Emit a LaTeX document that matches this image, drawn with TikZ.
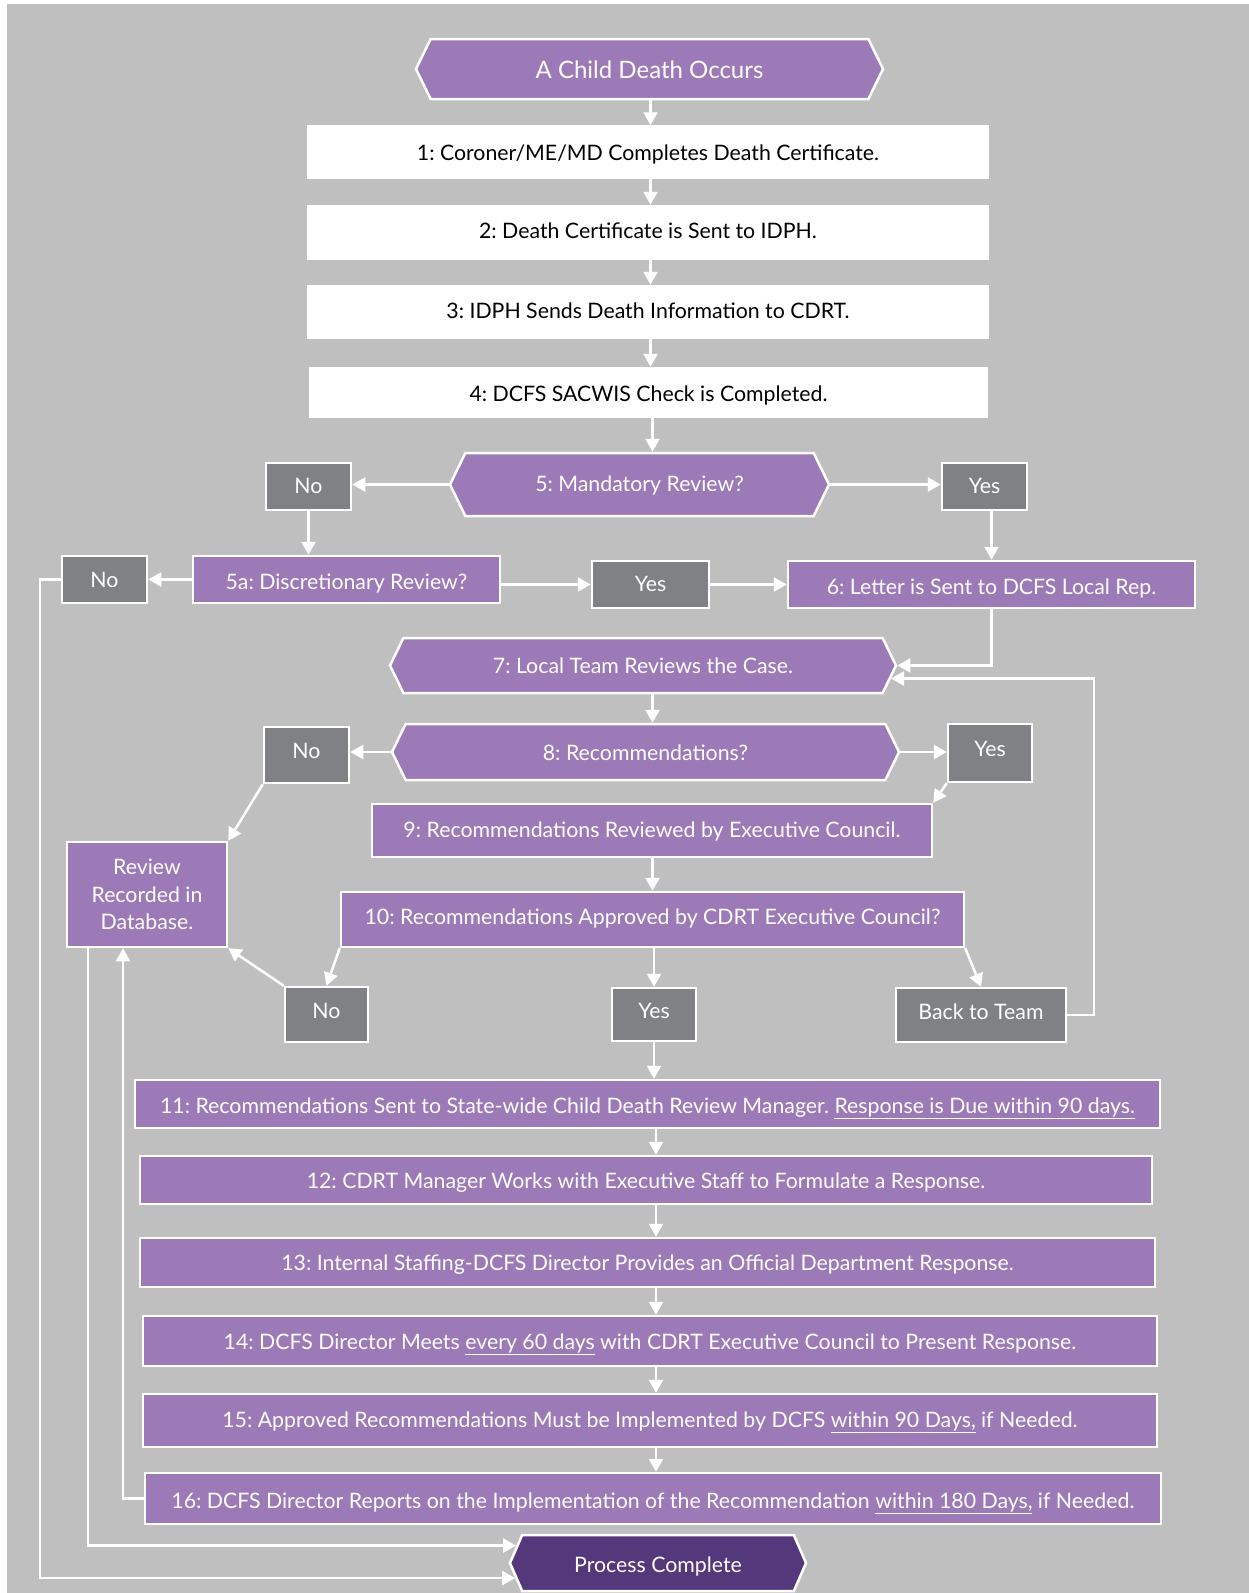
\documentclass[tikz,border=0pt]{standalone}
\usepackage{fontspec}
\setmainfont{Lato}
\usetikzlibrary{shapes.symbols,arrows.meta,calc}
\definecolor{bg}{HTML}{BFBFBF}
\definecolor{pur}{HTML}{9C7AB7}
\definecolor{gry}{HTML}{808185}
\definecolor{dpur}{HTML}{55387C}
\newcommand{\fs}{\fontsize{21.3}{27.5}\selectfont\frenchspacing}
\newcommand{\fsbig}{\fontsize{24}{28}\selectfont\frenchspacing}
\tikzset{
  base/.style={rectangle, draw=white, line width=2.5pt, inner sep=0pt, text=white, font=\fs},
  box/.style={base, text height=#1, text depth=0pt},
  box/.default=12pt,
  wbox/.style={box=#1, fill=white, text=black},
  wbox/.default=12pt,
  pbox/.style={box=#1, fill=pur},
  pbox/.default=12pt,
  gbox/.style={box=#1, fill=gry},
  gbox/.default=12pt,
  hexa/.style={signal, signal to=east and west, signal pointer angle=128, draw=white, line width=2.5pt, fill=pur, text=white, inner sep=0pt, font=\fs, text height=#1, text depth=0pt},
  hexa/.default=12pt,
  arr/.style={draw=white, line width=2.5pt, -{Triangle[width=14pt,length=13pt]}},
}
\begin{document}
\begin{tikzpicture}[x=1pt,y=-1pt]
\useasboundingbox (0,0) rectangle (1249,1593);
\fill[white] (0,0) rectangle (1249,1593);
\fill[bg] (7,4) rectangle (1249,1593);

% nodes
\node[hexa=18pt, font=\fsbig, minimum width=467pt, minimum height=60pt] (start) at (649.5,69) {A Child Death Occurs};
\node[wbox=16pt, minimum width=679pt, minimum height=51pt] (n1) at (648,152) {1: Coroner/ME/MD Completes Death Certificate.};
\node[wbox=11pt, minimum width=679pt, minimum height=53pt] (n2) at (648,232.5) {2: Death Certificate is Sent to IDPH.};
\node[wbox=12pt, minimum width=679pt, minimum height=52pt] (n3) at (648,312) {3: IDPH Sends Death Information to CDRT.};
\node[wbox=17pt, minimum width=677pt, minimum height=49pt] (n4) at (648.5,392.5) {4: DCFS SACWIS Check is Completed.};
\node[hexa=14pt, minimum width=379pt, minimum height=63pt] (n5) at (639.5,484.5) {5: Mandatory Review?};
\node[gbox=14pt, minimum width=85pt, minimum height=47pt] (no5) at (308.5,486.5) {No};
\node[gbox=14pt, minimum width=85pt, minimum height=47pt] (yes5) at (984.5,486.5) {Yes};
\node[pbox=19pt, minimum width=307pt, minimum height=47pt] (n5a) at (346.5,579.5) {5a: Discretionary Review?};
\node[gbox=15pt, minimum width=85pt, minimum height=47pt] (noL) at (104.5,579.5) {No};
\node[gbox=14pt, minimum width=117pt, minimum height=47pt] (yesM) at (650.5,584.5) {Yes};
\node[pbox=19pt, minimum width=407pt, minimum height=47pt] (n6) at (991.5,584.5) {6: Letter is Sent to DCFS Local Rep.};
\node[hexa=16pt, minimum width=506pt, minimum height=55pt] (n7) at (643,665.5) {7: Local Team Reviews the Case.};
\node[hexa=16pt, minimum width=507pt, minimum height=56pt] (n8) at (645.5,752) {8: Recommendations?};
\node[gbox=7pt, minimum width=85pt, minimum height=56pt] (no8) at (306.5,755) {No};
\node[gbox=6pt, minimum width=84pt, minimum height=58pt] (yes8) at (990,753) {Yes};
\node[pbox=14pt, minimum width=560pt, minimum height=53pt] (n9) at (652,830.5) {9: Recommendations Reviewed by Executive Council.};
\node[base, fill=pur, minimum width=160pt, minimum height=105pt, align=center] (rev) at (147,894.5) {Review\\Recorded in\\Database.};
\node[pbox=10pt, minimum width=623pt, minimum height=55pt] (n10) at (652.5,919.5) {10: Recommendations Approved by CDRT Executive Council?};
\node[gbox=7pt, minimum width=83pt, minimum height=55pt] (no10) at (326.5,1014.5) {No};
\node[gbox=8pt, minimum width=84pt, minimum height=53pt] (yes10) at (654,1014.5) {Yes};
\node[gbox=8pt, minimum width=170pt, minimum height=54pt] (back) at (981,1015) {Back to Team};
\node[pbox=19pt, minimum width=1025pt, minimum height=48pt] (n11) at (647.5,1104) {11: Recommendations Sent to State-wide Child Death Review Manager. \underline{Response is Due within 90 days.}};
\node[pbox=17pt, minimum width=1012pt, minimum height=48pt] (n12) at (646,1180) {12: CDRT Manager Works with Executive Staff to Formulate a Response.};
\node[pbox=16pt, minimum width=1015pt, minimum height=49pt] (n13) at (647.5,1262.5) {13: Internal Staffing-DCFS Director Provides an Official Department Response.};
\node[pbox=16pt, minimum width=1014pt, minimum height=50pt] (n14) at (650,1341) {14: DCFS Director Meets \underline{every 60 days} with CDRT Executive Council to Present Response.};
\node[pbox=14pt, minimum width=1014pt, minimum height=53pt] (n15) at (650,1420.5) {15: Approved Recommendations Must be Implemented by DCFS \underline{within 90 Days,} if Needed.};
\node[pbox=19pt, minimum width=1016pt, minimum height=51pt] (n16) at (653,1498.5) {16: DCFS Director Reports on the Implementation of the Recommendation \underline{within 180 Days,} if Needed.};
\node[hexa=19pt, fill=dpur, signal pointer angle=133, minimum width=296pt, minimum height=56pt] (pc) at (658,1563) {Process Complete};

\coordinate (bkx) at (1094,0);
\coordinate (axA) at (650.5,0);
\coordinate (axB) at (652.5,0);
\coordinate (axC) at (656,0);

% connectors
\draw[arr] (start.south -| axA) -- (n1.north -| axA);
\draw[arr] (n1.south -| axA) -- (n2.north -| axA);
\draw[arr] (n2.south -| axA) -- (n3.north -| axA);
\draw[arr] (n3.south -| axA) -- (n4.north -| axA);
\draw[arr] (n4.south -| axB) -- (n5.north -| axB);
\draw[arr] (n5.west) -- (n5.west -| no5.east);
\draw[arr] (n5.east) -- (n5.east -| yes5.west);
\draw[arr] (no5.south) -- (no5.south |- n5a.north);
\draw[arr] (n6.north |- yes5.south) -- (n6.north);
\draw[arr] (n5a.west) -- (n5a.west -| noL.east);
\draw[arr] (n5a.east |- yesM.west) -- (yesM.west);
\draw[arr] (yesM.east) -- (yesM.east -| n6.west);
\draw[arr] (n6.south) |- (n7.east);
\draw[arr] (n7.south -| axB) -- (n8.north -| axB);
\draw[arr] (n8.west) -- (n8.west -| no8.east);
\draw[arr] (n8.east) -- (n8.east -| yes8.west);
\draw[arr] (yes8.south west) -- (n9.north east);
\draw[arr] (no8.south west) -- (rev.north east);
\draw[arr] (n9.south -| axB) -- (n10.north -| axB);
\draw[arr] (n10.south west) -- (no10.north);
\draw[arr] (no10.north west) -- (rev.south east);
\draw[arr] (n10.south -| yes10.north) -- (yes10.north);
\draw[arr] (n10.south east) -- (back.north);
\draw[arr] (back.east) -- (back.east -| bkx) |- (n7.-3.6);
\draw[arr] (yes10.south) -- (yes10.south |- n11.north);
\draw[arr] (n11.south -| axC) -- (n12.north -| axC);
\draw[arr] (n12.south -| axC) -- (n13.north -| axC);
\draw[arr] (n13.south -| axC) -- (n14.north -| axC);
\draw[arr] (n14.south -| axC) -- (n15.north -| axC);
\draw[arr] (n15.south -| axC) -- (n16.north -| axC);
\draw[arr] (n16.west) -| ($(rev.south)+(-24,0)$);
\draw[arr] ($(rev.south)+(-59,0)$) |- (pc.173);
\draw[arr] (noL.west) -- ++(-21,0) |- (pc.-174.8);
\end{tikzpicture}
\end{document}
